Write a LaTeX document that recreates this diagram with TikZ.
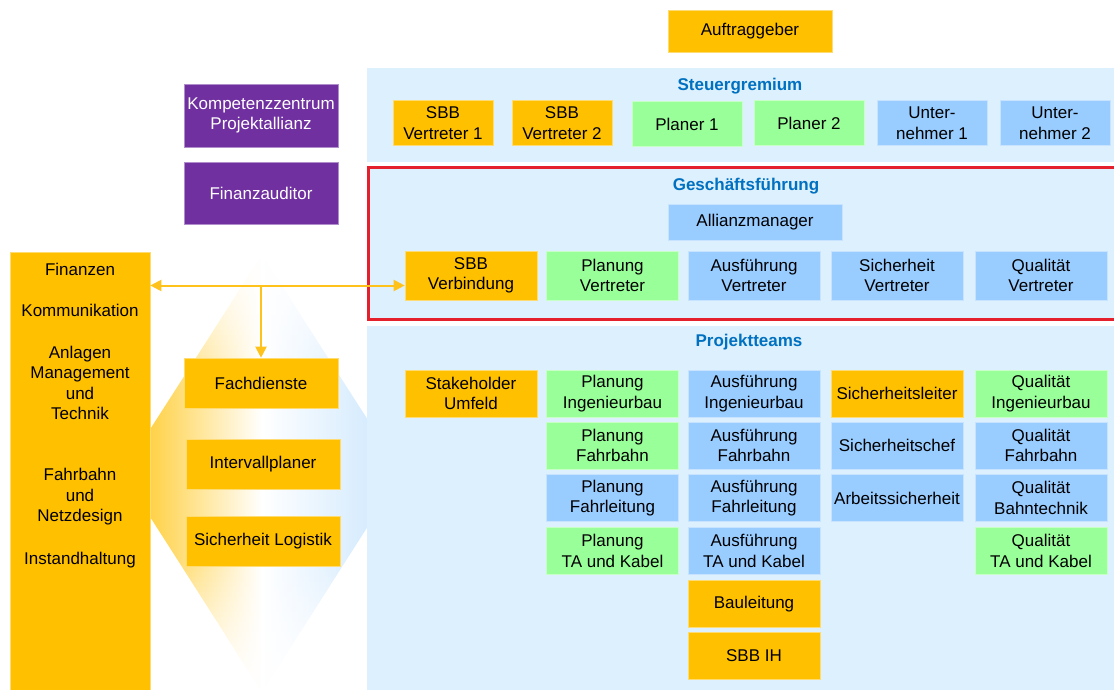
\documentclass[tikz,border=0pt]{standalone}
\usepackage{fontspec}
\setmainfont{Liberation Sans}
\usepackage{xcolor}
\usepackage{tikz}
\usetikzlibrary{arrows.meta}

\definecolor{sbbgelb}{HTML}{FFC000}
\definecolor{plangruen}{HTML}{99FF99}
\definecolor{ausfblau}{HTML}{99CCFF}
\definecolor{flaeche}{HTML}{DDF0FD}
\definecolor{lilaton}{HTML}{7030A0}
\definecolor{titelblau}{HTML}{0070C0}
\definecolor{rahmenrot}{HTML}{E3202B}
\definecolor{pfeilgelb}{HTML}{FFC21A}

\begin{document}
\begin{tikzpicture}[x=1pt,y=-1pt,
        every node/.style={font=\fontsize{17}{20.5}\selectfont},
        box/.style={rectangle, fill=#1, draw=#1!55!white, line width=0.6pt, align=center, inner sep=0pt},
        gelbbox/.style={box=sbbgelb},
        gruenbox/.style={box=plangruen},
        blaubox/.style={box=ausfblau},
        lilabox/.style={box=lilaton, text=white},
        titel/.style={font=\fontsize{17}{20}\selectfont\bfseries, text=titelblau},
        pfeil/.style={draw=pfeilgelb, line width=2pt, -{Triangle[width=11pt,length=11pt]}}]
                \useasboundingbox (0,0) rectangle (1114,690);
                % Raute hinter den Fachdiensten
                \begin{scope}
                        \clip (262,255) -- (402,473) -- (262,692) -- (122,473) -- cycle;
                        \shade[left color=sbbgelb!90, right color=ausfblau!30!flaeche, middle color=white] (122,255) rectangle (402,692);
                        \foreach \i in {0,...,23} {
                                \fill[white, opacity=0.97-\i*0.04] (122,255+\i*5) rectangle (402,260.3+\i*5);
                                \fill[white, opacity=0.97-\i*0.04] (122,692-\i*5) rectangle (402,686.7-\i*5);
                        }
                \end{scope}
                % Flaechen
                \fill[flaeche] (367,68) rectangle (1120,162);
                \fill[flaeche] (368,168) rectangle (1120,319);
                \draw[rahmenrot, line width=3pt] (1120,168) -- (368,168) -- (368,319) -- (1120,319);
                \fill[flaeche] (367,326) rectangle (1120,700);
                \node[titel] (steuer) at (740,86) {Steuergremium};
                \node[titel] (gf) at (746,186) {Geschäftsführung};
                \node[titel] (projekt) at (749,342) {Projektteams};
                % oben
                \node[gelbbox, minimum width=164, minimum height=42] (auftrag) at (750,31) {Auftraggeber};
                \node[lilabox, minimum width=154, minimum height=63] (kompetenz) at (261,115.5) {Kompetenzzentrum\\Projektallianz};
                \node[lilabox, minimum width=154, minimum height=62] (audit) at (261,193) {Finanzauditor};
                % Steuergremium
                \node[gelbbox, minimum width=100, minimum height=45] (sbbA) at (443,123) {SBB\\Vertreter 1};
                \node[gelbbox, minimum width=100, minimum height=45] (sbbB) at (562,123) {SBB\\Vertreter 2};
                \node[gruenbox, minimum width=110, minimum height=45] (planA) at (687,124) {Planer 1};
                \node[gruenbox, minimum width=110, minimum height=45] (planB) at (809,123) {Planer 2};
                \node[blaubox, minimum width=110, minimum height=45] (unterA) at (932,123) {Unter-\\nehmer 1};
                \node[blaubox, minimum width=110, minimum height=45] (unterB) at (1055,123) {Unter-\\nehmer 2};
                % Geschaeftsfuehrung
                \node[blaubox, minimum width=174, minimum height=36] (allianz) at (755,222) {Allianzmanager};
                \node[gelbbox, minimum width=132, minimum height=49] (verb) at (471,275.5) {SBB\\Verbindung};
                \node[gruenbox, minimum width=132, minimum height=49] (planV) at (612.5,275.5) {Planung\\Vertreter};
                \node[blaubox, minimum width=132, minimum height=49] (ausfV) at (754,275.5) {Ausführung\\Vertreter};
                \node[blaubox, minimum width=132, minimum height=49] (sichV) at (897,275.5) {Sicherheit\\Vertreter};
                \node[blaubox, minimum width=132, minimum height=49] (qualV) at (1041,275.5) {Qualität\\Vertreter};
                % Projektteams
                \node[gelbbox, minimum width=132, minimum height=47] (stake) at (471,393.5) {Stakeholder\\Umfeld};
                \node[gruenbox, minimum width=132, minimum height=47] (planIng) at (612.5,393.5) {Planung\\Ingenieurbau};
                \node[gruenbox, minimum width=132, minimum height=47] (planFb) at (612.5,445.5) {Planung\\Fahrbahn};
                \node[blaubox, minimum width=132, minimum height=47] (planFl) at (612.5,498) {Planung\\Fahrleitung};
                \node[gruenbox, minimum width=132, minimum height=47] (planTA) at (612.5,551) {Planung\\TA und Kabel};
                \node[blaubox, minimum width=132, minimum height=47] (ausfIng) at (754,393.5) {Ausführung\\Ingenieurbau};
                \node[blaubox, minimum width=132, minimum height=47] (ausfFb) at (754,445.5) {Ausführung\\Fahrbahn};
                \node[blaubox, minimum width=132, minimum height=47] (ausfFl) at (754,498) {Ausführung\\Fahrleitung};
                \node[blaubox, minimum width=132, minimum height=47] (ausfTA) at (754,551) {Ausführung\\TA und Kabel};
                \node[gelbbox, minimum width=132, minimum height=47] (bau) at (754,604) {Bauleitung};
                \node[gelbbox, minimum width=132, minimum height=47] (ih) at (754,656) {SBB IH};
                \node[gelbbox, minimum width=132, minimum height=47] (sichLeit) at (897,393.5) {Sicherheitsleiter};
                \node[blaubox, minimum width=132, minimum height=47] (sichChef) at (897,445.5) {Sicherheitschef};
                \node[blaubox, minimum width=132, minimum height=47] (arbSich) at (897,498) {Arbeitssicherheit};
                \node[gruenbox, minimum width=132, minimum height=47] (qualIng) at (1041,393.5) {Qualität\\Ingenieurbau};
                \node[blaubox, minimum width=132, minimum height=47] (qualFb) at (1041,445.5) {Qualität\\Fahrbahn};
                \node[blaubox, minimum width=132, minimum height=47] (qualBt) at (1041,498) {Qualität\\Bahntechnik};
                \node[gruenbox, minimum width=132, minimum height=47] (qualTA) at (1041,551) {Qualität\\TA und Kabel};
                % links
                \node[gelbbox, minimum width=140, minimum height=440] (links) at (80,472) {};
                \node (finanzen) at (80,269) {Finanzen};
                \node (kommu) at (80,310) {Kommunikation};
                \node[align=center] (anlagen) at (80,383) {Anlagen\\Management\\und\\Technik};
                \node[align=center] (netz) at (80,497) {Fahrbahn\\und\\Netzdesign};
                \node (instand) at (80,560) {Instandhaltung};
                \node[gelbbox, minimum width=154, minimum height=50] (fach) at (261,383) {Fachdienste};
                \node[gelbbox, minimum width=154, minimum height=50] (intervall) at (263,464) {Intervallplaner};
                \node[gelbbox, minimum width=154, minimum height=50] (logistik) at (263,541) {Sicherheit Logistik};
                % Pfeile
                \coordinate (verbpunkt) at ([yshift=-10pt]verb.west);
                \coordinate (abzweig) at (fach.north |- verbpunkt);
                \draw[pfeil, {Triangle[width=11pt,length=11pt]}-{Triangle[width=11pt,length=11pt]}] (links.east |- verbpunkt) -- (verbpunkt);
                \draw[pfeil] (abzweig) -- (fach.north);
\end{tikzpicture}
\end{document}
